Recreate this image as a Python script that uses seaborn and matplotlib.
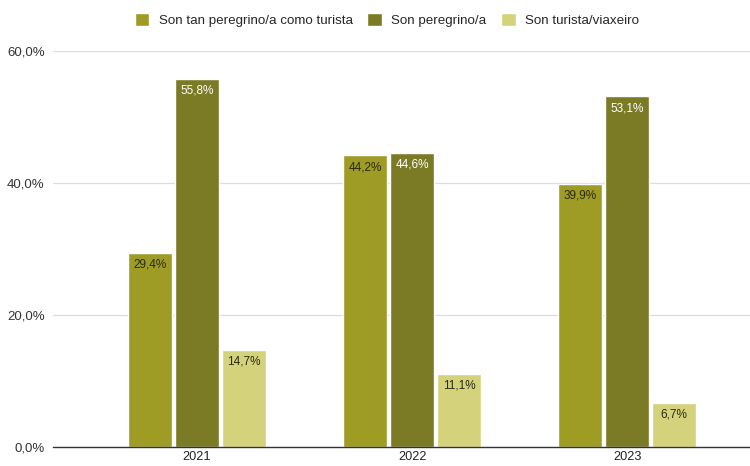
import pandas as pd
import matplotlib.pyplot as plt
import seaborn as sns

years = ['2021', '2022', '2023']
series = ['Son tan peregrino/a como turista', 'Son peregrino/a', 'Son turista/viaxeiro']
tan_peregrino_como_turista = [29.4, 44.2, 39.9]
peregrino = [55.8, 44.6, 53.1]
turista = [14.7, 11.1, 6.7]

colors = ['#9e9c25', '#7b7b26', '#d5d27c']
label_colors = ['#2a2a10', 'white', '#2a2a10']

df = pd.DataFrame({
    'year': years * 3,
    'serie': [s for s in series for _ in years],
    'value': tan_peregrino_como_turista + peregrino + turista,
})

sns.set_style('white')
plt.rcParams['font.family'] = ['Liberation Sans', 'DejaVu Sans']

fig = plt.figure(figsize=(7.5, 4.66), dpi=100)
ax = fig.add_axes([0.0707, 0.0408, 0.929, 0.850])

sns.barplot(data=df, x='year', y='value', hue='serie', hue_order=series,
            palette=colors, width=0.656, gap=0.065, saturation=1, ax=ax)

for cont, col in zip(ax.containers, label_colors):
    labels = [f'{b.get_height():.1f}%'.replace('.', ',') for b in cont]
    ax.bar_label(cont, labels=labels, padding=-13, color=col, fontsize=8.5)

ax.set_ylim(0, 60)
ax.set_xlim(-0.67, 2.57)
ax.set_yticks([0, 20, 40, 60])
ax.set_yticklabels(['0,0%', '20,0%', '40,0%', '60,0%'], fontsize=9.5, color='#333333')
ax.tick_params(axis='x', labelsize=9.2, colors='#222222', length=0, pad=3)
ax.tick_params(axis='y', length=0, pad=6)
ax.set_xlabel('')
ax.set_ylabel('')
ax.grid(axis='y', color='#dddddd', linewidth=0.9)
ax.set_axisbelow(True)
for s in ['top', 'right', 'left']:
    ax.spines[s].set_visible(False)
ax.spines['bottom'].set_color('#333333')
ax.spines['bottom'].set_linewidth(1)

handles, lbls = ax.get_legend_handles_labels()
ax.get_legend().remove()
fig.legend(handles, lbls, loc='center', bbox_to_anchor=(0.516, 0.957), ncol=3,
           frameon=False, fontsize=9.6, handlelength=1.1, handleheight=1.1,
           handletextpad=0.7, columnspacing=1.1)

fig.savefig('out.png', dpi=100)
